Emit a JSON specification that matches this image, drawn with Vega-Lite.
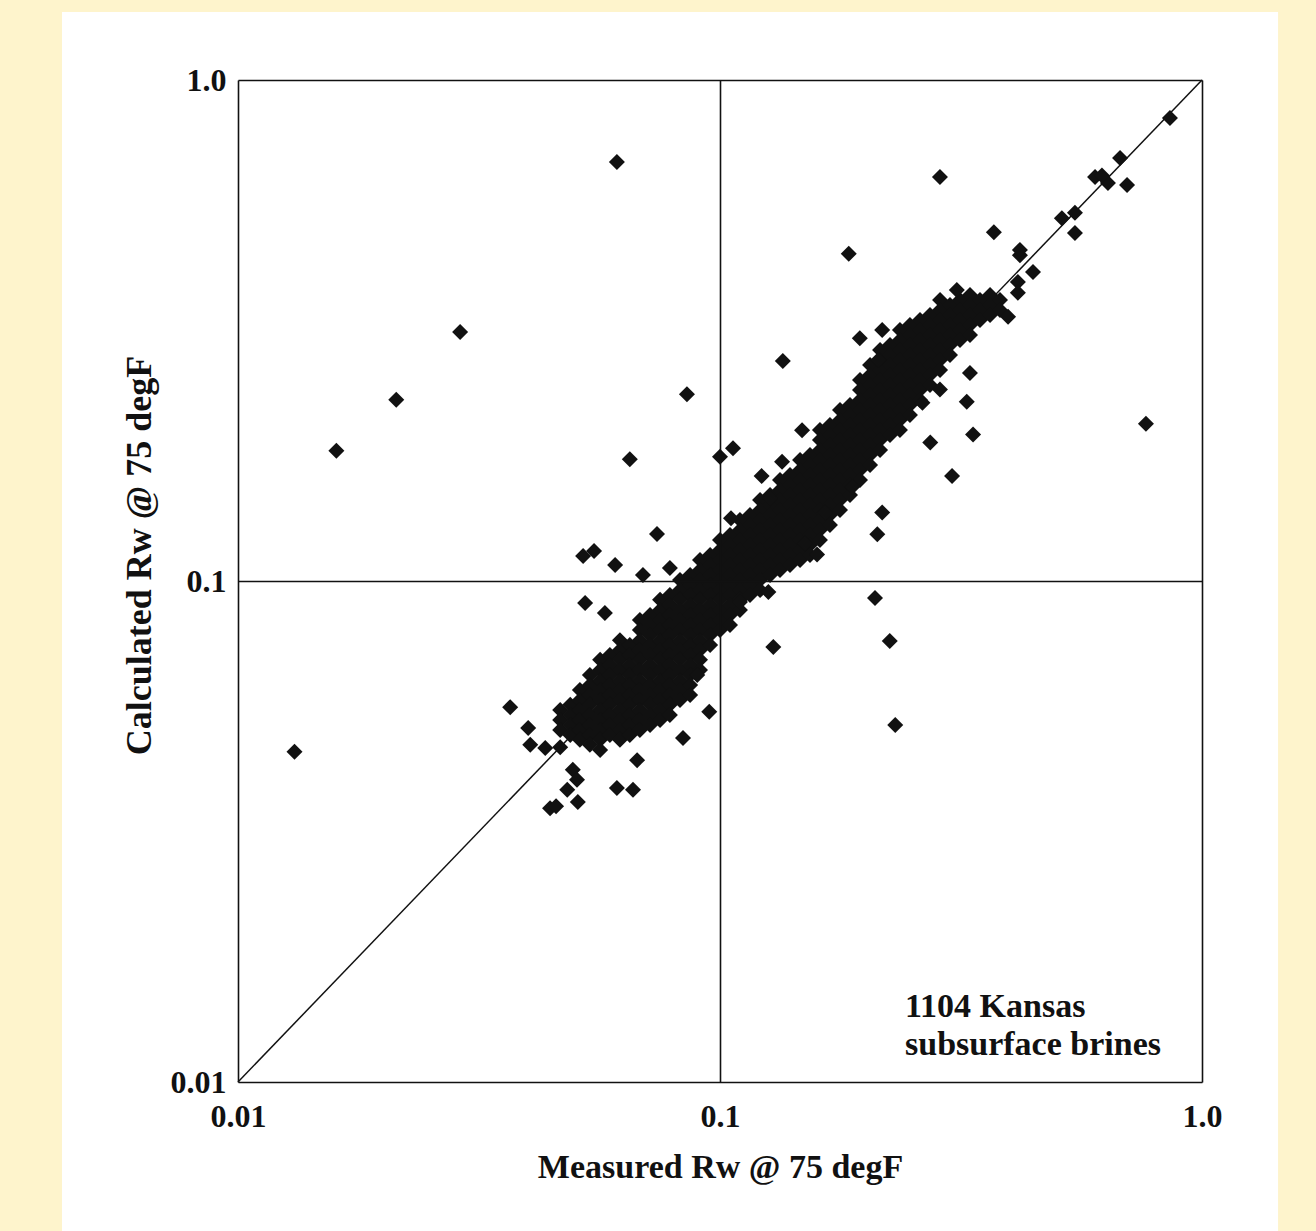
{
  "$schema": "https://vega.github.io/schema/vega-lite/v6.json",
  "width": 964,
  "height": 1002,
  "autosize": "none",
  "padding": {"left": 238, "top": 80, "right": 114, "bottom": 149},
  "background": "#FEF4CC",
  "config": {
    "view": {"stroke": null},
    "axis": {
      "grid": true, "gridColor": "#111111", "gridWidth": 1.6, "gridOpacity": 1,
      "domain": false, "ticks": false,
      "labelFont": "Liberation Serif", "labelFontWeight": "bold", "labelFontSize": 32, "labelColor": "#111111",
      "titleFont": "Liberation Serif", "titleFontWeight": "bold", "titleFontSize": 34, "titleColor": "#111111",
      "labelFlush": false, "labelOverlap": false, "labelBound": false
    }
  },
  "layer": [
    {
      "data": {"values": [{"meas": 0.004314, "meas2": 1.438, "calc": 0.00484, "calc2": 1.367}]},
      "mark": {"type": "rect", "color": "#FFFFFF"},
      "encoding": {
        "x": {"field": "meas", "type": "quantitative", "scale": {"type": "log", "domain": [0.01, 1]},
              "axis": {"title": "Measured Rw @ 75 degF", "values": [0.01, 0.1, 1], "labelPadding": 19, "titlePadding": 18, "zindex": 2,
                       "labelExpr": "datum.value >= 0.99 ? '1.0' : datum.value >= 0.099 ? '0.1' : '0.01'"}},
        "x2": {"field": "meas2"},
        "y": {"field": "calc", "type": "quantitative", "scale": {"type": "log", "domain": [0.01, 1]},
              "axis": {"title": "Calculated Rw @ 75 degF", "values": [0.01, 0.1, 1], "labelPadding": 12, "titlePadding": 12, "titleY": 475, "titleFontSize": 36, "zindex": 2,
                       "labelExpr": "datum.value >= 0.99 ? '1.0' : datum.value >= 0.099 ? '0.1' : '0.01'"}},
        "y2": {"field": "calc2"}
      }
    },
    {
      "data": {"values": [{}]},
      "mark": {"type": "rule", "color": "#111111", "strokeWidth": 1.5},
      "encoding": {
        "x": {"datum": 0.01, "type": "quantitative"},
        "x2": {"datum": 1},
        "y": {"datum": 0.01, "type": "quantitative"},
        "y2": {"datum": 1}
      }
    },
    {
      "data": {"values": [
        {"meas":0.0466,"calc":0.0553},{"meas":0.0466,"calc":0.0528},{"meas":0.0466,"calc":0.0504},
        {"meas":0.0489,"calc":0.0566},{"meas":0.0489,"calc":0.0540},{"meas":0.0489,"calc":0.0516},{"meas":0.0489,"calc":0.0493},
        {"meas":0.0512,"calc":0.0606},{"meas":0.0512,"calc":0.0579},{"meas":0.0512,"calc":0.0553},{"meas":0.0512,"calc":0.0528},{"meas":0.0512,"calc":0.0504},{"meas":0.0512,"calc":0.0482},
        {"meas":0.0537,"calc":0.0649},{"meas":0.0537,"calc":0.0620},{"meas":0.0537,"calc":0.0592},{"meas":0.0537,"calc":0.0566},{"meas":0.0537,"calc":0.0540},{"meas":0.0537,"calc":0.0516},{"meas":0.0537,"calc":0.0493},{"meas":0.0537,"calc":0.0471},
        {"meas":0.0564,"calc":0.0696},{"meas":0.0564,"calc":0.0664},{"meas":0.0564,"calc":0.0634},{"meas":0.0564,"calc":0.0606},{"meas":0.0564,"calc":0.0579},{"meas":0.0564,"calc":0.0553},{"meas":0.0564,"calc":0.0528},{"meas":0.0564,"calc":0.0504},{"meas":0.0564,"calc":0.0482},{"meas":0.0564,"calc":0.0460},
        {"meas":0.0591,"calc":0.0712},{"meas":0.0591,"calc":0.0680},{"meas":0.0591,"calc":0.0649},{"meas":0.0591,"calc":0.0620},{"meas":0.0591,"calc":0.0592},{"meas":0.0591,"calc":0.0566},{"meas":0.0591,"calc":0.0540},{"meas":0.0591,"calc":0.0516},{"meas":0.0591,"calc":0.0493},
        {"meas":0.0620,"calc":0.0762},{"meas":0.0620,"calc":0.0728},{"meas":0.0620,"calc":0.0696},{"meas":0.0620,"calc":0.0664},{"meas":0.0620,"calc":0.0634},{"meas":0.0620,"calc":0.0606},{"meas":0.0620,"calc":0.0579},{"meas":0.0620,"calc":0.0553},{"meas":0.0620,"calc":0.0528},{"meas":0.0620,"calc":0.0504},{"meas":0.0620,"calc":0.0482},
        {"meas":0.0650,"calc":0.0745},{"meas":0.0650,"calc":0.0712},{"meas":0.0650,"calc":0.0680},{"meas":0.0650,"calc":0.0649},{"meas":0.0650,"calc":0.0620},{"meas":0.0650,"calc":0.0592},{"meas":0.0650,"calc":0.0566},{"meas":0.0650,"calc":0.0540},{"meas":0.0650,"calc":0.0516},{"meas":0.0650,"calc":0.0493},
        {"meas":0.0682,"calc":0.0836},{"meas":0.0682,"calc":0.0798},{"meas":0.0682,"calc":0.0762},{"meas":0.0682,"calc":0.0728},{"meas":0.0682,"calc":0.0696},{"meas":0.0682,"calc":0.0664},{"meas":0.0682,"calc":0.0634},{"meas":0.0682,"calc":0.0606},{"meas":0.0682,"calc":0.0579},{"meas":0.0682,"calc":0.0553},{"meas":0.0682,"calc":0.0528},{"meas":0.0682,"calc":0.0504},
        {"meas":0.0716,"calc":0.0855},{"meas":0.0716,"calc":0.0817},{"meas":0.0716,"calc":0.0780},{"meas":0.0716,"calc":0.0745},{"meas":0.0716,"calc":0.0712},{"meas":0.0716,"calc":0.0680},{"meas":0.0716,"calc":0.0649},{"meas":0.0716,"calc":0.0620},{"meas":0.0716,"calc":0.0592},{"meas":0.0716,"calc":0.0566},{"meas":0.0716,"calc":0.0540},{"meas":0.0716,"calc":0.0516},
        {"meas":0.0751,"calc":0.0917},{"meas":0.0751,"calc":0.0875},{"meas":0.0751,"calc":0.0836},{"meas":0.0751,"calc":0.0798},{"meas":0.0751,"calc":0.0762},{"meas":0.0751,"calc":0.0728},{"meas":0.0751,"calc":0.0696},{"meas":0.0751,"calc":0.0664},{"meas":0.0751,"calc":0.0634},{"meas":0.0751,"calc":0.0606},{"meas":0.0751,"calc":0.0579},{"meas":0.0751,"calc":0.0553},{"meas":0.0751,"calc":0.0528},
        {"meas":0.0787,"calc":0.0938},{"meas":0.0787,"calc":0.0896},{"meas":0.0787,"calc":0.0855},{"meas":0.0787,"calc":0.0817},{"meas":0.0787,"calc":0.0780},{"meas":0.0787,"calc":0.0745},{"meas":0.0787,"calc":0.0712},{"meas":0.0787,"calc":0.0680},{"meas":0.0787,"calc":0.0649},{"meas":0.0787,"calc":0.0620},{"meas":0.0787,"calc":0.0592},{"meas":0.0787,"calc":0.0566},{"meas":0.0787,"calc":0.0540},
        {"meas":0.0826,"calc":0.1005},{"meas":0.0826,"calc":0.0959},{"meas":0.0826,"calc":0.0917},{"meas":0.0826,"calc":0.0875},{"meas":0.0826,"calc":0.0836},{"meas":0.0826,"calc":0.0798},{"meas":0.0826,"calc":0.0762},{"meas":0.0826,"calc":0.0728},{"meas":0.0826,"calc":0.0696},{"meas":0.0826,"calc":0.0664},{"meas":0.0826,"calc":0.0634},{"meas":0.0826,"calc":0.0606},{"meas":0.0826,"calc":0.0579},
        {"meas":0.0867,"calc":0.1028},{"meas":0.0867,"calc":0.0982},{"meas":0.0867,"calc":0.0938},{"meas":0.0867,"calc":0.0896},{"meas":0.0867,"calc":0.0855},{"meas":0.0867,"calc":0.0817},{"meas":0.0867,"calc":0.0780},{"meas":0.0867,"calc":0.0745},{"meas":0.0867,"calc":0.0712},{"meas":0.0867,"calc":0.0680},{"meas":0.0867,"calc":0.0649},{"meas":0.0867,"calc":0.0620},{"meas":0.0867,"calc":0.0592},
        {"meas":0.0909,"calc":0.1101},{"meas":0.0909,"calc":0.1052},{"meas":0.0909,"calc":0.1005},{"meas":0.0909,"calc":0.0959},{"meas":0.0909,"calc":0.0917},{"meas":0.0909,"calc":0.0875},{"meas":0.0909,"calc":0.0836},{"meas":0.0909,"calc":0.0798},{"meas":0.0909,"calc":0.0762},{"meas":0.0909,"calc":0.0728},{"meas":0.0909,"calc":0.0696},{"meas":0.0909,"calc":0.0664},
        {"meas":0.0954,"calc":0.1127},{"meas":0.0954,"calc":0.1076},{"meas":0.0954,"calc":0.1028},{"meas":0.0954,"calc":0.0982},{"meas":0.0954,"calc":0.0938},{"meas":0.0954,"calc":0.0896},{"meas":0.0954,"calc":0.0855},{"meas":0.0954,"calc":0.0817},{"meas":0.0954,"calc":0.0780},{"meas":0.0954,"calc":0.0745},
        {"meas":0.1000,"calc":0.1207},{"meas":0.1000,"calc":0.1153},{"meas":0.1000,"calc":0.1101},{"meas":0.1000,"calc":0.1052},{"meas":0.1000,"calc":0.1005},{"meas":0.1000,"calc":0.0959},{"meas":0.1000,"calc":0.0917},{"meas":0.1000,"calc":0.0875},{"meas":0.1000,"calc":0.0836},{"meas":0.1000,"calc":0.0798},
        {"meas":0.1049,"calc":0.1235},{"meas":0.1049,"calc":0.1180},{"meas":0.1049,"calc":0.1127},{"meas":0.1049,"calc":0.1076},{"meas":0.1049,"calc":0.1028},{"meas":0.1049,"calc":0.0982},{"meas":0.1049,"calc":0.0938},{"meas":0.1049,"calc":0.0896},{"meas":0.1049,"calc":0.0855},{"meas":0.1049,"calc":0.0817},
        {"meas":0.1100,"calc":0.1323},{"meas":0.1100,"calc":0.1264},{"meas":0.1100,"calc":0.1207},{"meas":0.1100,"calc":0.1153},{"meas":0.1100,"calc":0.1101},{"meas":0.1100,"calc":0.1052},{"meas":0.1100,"calc":0.1005},{"meas":0.1100,"calc":0.0959},{"meas":0.1100,"calc":0.0917},{"meas":0.1100,"calc":0.0875},
        {"meas":0.1154,"calc":0.1354},{"meas":0.1154,"calc":0.1293},{"meas":0.1154,"calc":0.1235},{"meas":0.1154,"calc":0.1180},{"meas":0.1154,"calc":0.1127},{"meas":0.1154,"calc":0.1076},{"meas":0.1154,"calc":0.1028},{"meas":0.1154,"calc":0.0982},{"meas":0.1154,"calc":0.0938},
        {"meas":0.1211,"calc":0.1451},{"meas":0.1211,"calc":0.1386},{"meas":0.1211,"calc":0.1323},{"meas":0.1211,"calc":0.1264},{"meas":0.1211,"calc":0.1207},{"meas":0.1211,"calc":0.1153},{"meas":0.1211,"calc":0.1101},{"meas":0.1211,"calc":0.1052},{"meas":0.1211,"calc":0.1005},{"meas":0.1211,"calc":0.0959},
        {"meas":0.1270,"calc":0.1485},{"meas":0.1270,"calc":0.1418},{"meas":0.1270,"calc":0.1354},{"meas":0.1270,"calc":0.1293},{"meas":0.1270,"calc":0.1235},{"meas":0.1270,"calc":0.1180},{"meas":0.1270,"calc":0.1127},{"meas":0.1270,"calc":0.1076},{"meas":0.1270,"calc":0.1028},
        {"meas":0.1332,"calc":0.1590},{"meas":0.1332,"calc":0.1519},{"meas":0.1332,"calc":0.1451},{"meas":0.1332,"calc":0.1386},{"meas":0.1332,"calc":0.1323},{"meas":0.1332,"calc":0.1264},{"meas":0.1332,"calc":0.1207},{"meas":0.1332,"calc":0.1153},{"meas":0.1332,"calc":0.1101},{"meas":0.1332,"calc":0.1052},
        {"meas":0.1397,"calc":0.1627},{"meas":0.1397,"calc":0.1554},{"meas":0.1397,"calc":0.1485},{"meas":0.1397,"calc":0.1418},{"meas":0.1397,"calc":0.1354},{"meas":0.1397,"calc":0.1293},{"meas":0.1397,"calc":0.1235},{"meas":0.1397,"calc":0.1180},{"meas":0.1397,"calc":0.1127},{"meas":0.1397,"calc":0.1076},
        {"meas":0.1466,"calc":0.1744},{"meas":0.1466,"calc":0.1665},{"meas":0.1466,"calc":0.1590},{"meas":0.1466,"calc":0.1519},{"meas":0.1466,"calc":0.1451},{"meas":0.1466,"calc":0.1386},{"meas":0.1466,"calc":0.1323},{"meas":0.1466,"calc":0.1264},{"meas":0.1466,"calc":0.1207},{"meas":0.1466,"calc":0.1153},{"meas":0.1466,"calc":0.1101},
        {"meas":0.1537,"calc":0.1785},{"meas":0.1537,"calc":0.1704},{"meas":0.1537,"calc":0.1627},{"meas":0.1537,"calc":0.1554},{"meas":0.1537,"calc":0.1485},{"meas":0.1537,"calc":0.1418},{"meas":0.1537,"calc":0.1354},{"meas":0.1537,"calc":0.1293},{"meas":0.1537,"calc":0.1235},{"meas":0.1537,"calc":0.1180},{"meas":0.1537,"calc":0.1127},
        {"meas":0.1612,"calc":0.2001},{"meas":0.1612,"calc":0.1911},{"meas":0.1612,"calc":0.1826},{"meas":0.1612,"calc":0.1744},{"meas":0.1612,"calc":0.1665},{"meas":0.1612,"calc":0.1590},{"meas":0.1612,"calc":0.1519},{"meas":0.1612,"calc":0.1451},{"meas":0.1612,"calc":0.1386},{"meas":0.1612,"calc":0.1323},{"meas":0.1612,"calc":0.1264},{"meas":0.1612,"calc":0.1207},
        {"meas":0.1691,"calc":0.2048},{"meas":0.1691,"calc":0.1956},{"meas":0.1691,"calc":0.1868},{"meas":0.1691,"calc":0.1785},{"meas":0.1691,"calc":0.1704},{"meas":0.1691,"calc":0.1627},{"meas":0.1691,"calc":0.1554},{"meas":0.1691,"calc":0.1485},{"meas":0.1691,"calc":0.1418},{"meas":0.1691,"calc":0.1354},{"meas":0.1691,"calc":0.1293},
        {"meas":0.1774,"calc":0.2194},{"meas":0.1774,"calc":0.2096},{"meas":0.1774,"calc":0.2001},{"meas":0.1774,"calc":0.1911},{"meas":0.1774,"calc":0.1826},{"meas":0.1774,"calc":0.1744},{"meas":0.1774,"calc":0.1665},{"meas":0.1774,"calc":0.1590},{"meas":0.1774,"calc":0.1519},{"meas":0.1774,"calc":0.1451},{"meas":0.1774,"calc":0.1386},
        {"meas":0.1861,"calc":0.2245},{"meas":0.1861,"calc":0.2145},{"meas":0.1861,"calc":0.2048},{"meas":0.1861,"calc":0.1956},{"meas":0.1861,"calc":0.1868},{"meas":0.1861,"calc":0.1785},{"meas":0.1861,"calc":0.1704},{"meas":0.1861,"calc":0.1627},{"meas":0.1861,"calc":0.1554},{"meas":0.1861,"calc":0.1485},
        {"meas":0.1952,"calc":0.2519},{"meas":0.1952,"calc":0.2405},{"meas":0.1952,"calc":0.2297},{"meas":0.1952,"calc":0.2194},{"meas":0.1952,"calc":0.2096},{"meas":0.1952,"calc":0.2001},{"meas":0.1952,"calc":0.1911},{"meas":0.1952,"calc":0.1826},{"meas":0.1952,"calc":0.1744},{"meas":0.1952,"calc":0.1665},{"meas":0.1952,"calc":0.1590},
        {"meas":0.2048,"calc":0.2699},{"meas":0.2048,"calc":0.2578},{"meas":0.2048,"calc":0.2462},{"meas":0.2048,"calc":0.2351},{"meas":0.2048,"calc":0.2245},{"meas":0.2048,"calc":0.2145},{"meas":0.2048,"calc":0.2048},{"meas":0.2048,"calc":0.1956},{"meas":0.2048,"calc":0.1868},{"meas":0.2048,"calc":0.1785},{"meas":0.2048,"calc":0.1704},
        {"meas":0.2148,"calc":0.2891},{"meas":0.2148,"calc":0.2761},{"meas":0.2148,"calc":0.2637},{"meas":0.2148,"calc":0.2519},{"meas":0.2148,"calc":0.2405},{"meas":0.2148,"calc":0.2297},{"meas":0.2148,"calc":0.2194},{"meas":0.2148,"calc":0.2096},{"meas":0.2148,"calc":0.2001},{"meas":0.2148,"calc":0.1911},{"meas":0.2148,"calc":0.1826},
        {"meas":0.2253,"calc":0.2959},{"meas":0.2253,"calc":0.2826},{"meas":0.2253,"calc":0.2699},{"meas":0.2253,"calc":0.2578},{"meas":0.2253,"calc":0.2462},{"meas":0.2253,"calc":0.2351},{"meas":0.2253,"calc":0.2245},{"meas":0.2253,"calc":0.2145},{"meas":0.2253,"calc":0.2048},{"meas":0.2253,"calc":0.1956},
        {"meas":0.2362,"calc":0.3170},{"meas":0.2362,"calc":0.3027},{"meas":0.2362,"calc":0.2891},{"meas":0.2362,"calc":0.2761},{"meas":0.2362,"calc":0.2637},{"meas":0.2362,"calc":0.2519},{"meas":0.2362,"calc":0.2405},{"meas":0.2362,"calc":0.2297},{"meas":0.2362,"calc":0.2194},{"meas":0.2362,"calc":0.2096},{"meas":0.2362,"calc":0.2001},
        {"meas":0.2478,"calc":0.3244},{"meas":0.2478,"calc":0.3098},{"meas":0.2478,"calc":0.2959},{"meas":0.2478,"calc":0.2826},{"meas":0.2478,"calc":0.2699},{"meas":0.2478,"calc":0.2578},{"meas":0.2478,"calc":0.2462},{"meas":0.2478,"calc":0.2351},{"meas":0.2478,"calc":0.2245},{"meas":0.2478,"calc":0.2145},
        {"meas":0.2600,"calc":0.3319},{"meas":0.2600,"calc":0.3170},{"meas":0.2600,"calc":0.3027},{"meas":0.2600,"calc":0.2891},{"meas":0.2600,"calc":0.2761},{"meas":0.2600,"calc":0.2637},{"meas":0.2600,"calc":0.2519},{"meas":0.2600,"calc":0.2405},{"meas":0.2600,"calc":0.2297},
        {"meas":0.2727,"calc":0.3396},{"meas":0.2727,"calc":0.3244},{"meas":0.2727,"calc":0.3098},{"meas":0.2727,"calc":0.2959},{"meas":0.2727,"calc":0.2826},{"meas":0.2727,"calc":0.2699},{"meas":0.2727,"calc":0.2578},{"meas":0.2727,"calc":0.2462},
        {"meas":0.2861,"calc":0.3638},{"meas":0.2861,"calc":0.3474},{"meas":0.2861,"calc":0.3319},{"meas":0.2861,"calc":0.3170},{"meas":0.2861,"calc":0.3027},{"meas":0.2861,"calc":0.2891},{"meas":0.2861,"calc":0.2761},{"meas":0.2861,"calc":0.2637},
        {"meas":0.3000,"calc":0.3555},{"meas":0.3000,"calc":0.3396},{"meas":0.3000,"calc":0.3244},{"meas":0.3000,"calc":0.3098},{"meas":0.3000,"calc":0.2959},{"meas":0.3000,"calc":0.2826},
        {"meas":0.3147,"calc":0.3638},{"meas":0.3147,"calc":0.3474},{"meas":0.3147,"calc":0.3319},{"meas":0.3147,"calc":0.3170},{"meas":0.3147,"calc":0.3027},
        {"meas":0.3301,"calc":0.3723},{"meas":0.3301,"calc":0.3555},{"meas":0.3301,"calc":0.3396},{"meas":0.3301,"calc":0.3244},{"meas":0.3301,"calc":0.3098},
        {"meas":0.3463,"calc":0.3638},{"meas":0.3463,"calc":0.3474},{"meas":0.3463,"calc":0.3319},
        {"meas":0.3633,"calc":0.3723},{"meas":0.3633,"calc":0.3555},{"meas":0.3633,"calc":0.3396},
        {"meas":0.3810,"calc":0.3638},{"meas":0.3810,"calc":0.3474},
        {"meas":0.0611,"calc":0.686},{"meas":0.0289,"calc":0.314},{"meas":0.0213,"calc":0.230},{"meas":0.0160,"calc":0.182},{"meas":0.0131,"calc":0.0456},
        {"meas":0.0854,"calc":0.236},{"meas":0.0650,"calc":0.175},{"meas":0.100,"calc":0.177},{"meas":0.1064,"calc":0.184},{"meas":0.765,"calc":0.206},
        {"meas":0.286,"calc":0.640},{"meas":0.185,"calc":0.450},{"meas":0.370,"calc":0.497},{"meas":0.858,"calc":0.840},{"meas":0.676,"calc":0.699},
        {"meas":0.600,"calc":0.640},{"meas":0.638,"calc":0.623},{"meas":0.699,"calc":0.617},{"meas":0.620,"calc":0.645},{"meas":0.512,"calc":0.530},
        {"meas":0.545,"calc":0.543},{"meas":0.545,"calc":0.495},{"meas":0.419,"calc":0.447},{"meas":0.419,"calc":0.458},{"meas":0.446,"calc":0.414},
        {"meas":0.415,"calc":0.395},{"meas":0.415,"calc":0.376},{"meas":0.310,"calc":0.381},{"meas":0.396,"calc":0.337},{"meas":0.195,"calc":0.305},
        {"meas":0.217,"calc":0.317},{"meas":0.213,"calc":0.276},{"meas":0.330,"calc":0.260},{"meas":0.325,"calc":0.228},{"meas":0.335,"calc":0.196},
        {"meas":0.273,"calc":0.189},{"meas":0.303,"calc":0.162},{"meas":0.263,"calc":0.227},{"meas":0.286,"calc":0.241},{"meas":0.217,"calc":0.137},
        {"meas":0.212,"calc":0.124},{"meas":0.159,"calc":0.113},{"meas":0.150,"calc":0.119},{"meas":0.188,"calc":0.154},{"meas":0.165,"calc":0.137},
        {"meas":0.148,"calc":0.200},{"meas":0.1345,"calc":0.173},{"meas":0.122,"calc":0.162},{"meas":0.127,"calc":0.146},{"meas":0.1054,"calc":0.1335},
        {"meas":0.135,"calc":0.275},{"meas":0.2097,"calc":0.0925},{"meas":0.225,"calc":0.0759},{"meas":0.231,"calc":0.0516},{"meas":0.129,"calc":0.0738},
        {"meas":0.126,"calc":0.0951},{"meas":0.110,"calc":0.0908},{"meas":0.0950,"calc":0.0548},{"meas":0.0838,"calc":0.0486},{"meas":0.0897,"calc":0.0649},
        {"meas":0.0367,"calc":0.0560},{"meas":0.0400,"calc":0.0509},{"meas":0.0404,"calc":0.0471},{"meas":0.0434,"calc":0.0464},{"meas":0.0466,"calc":0.0466},
        {"meas":0.0444,"calc":0.0352},{"meas":0.0457,"calc":0.0355},{"meas":0.0507,"calc":0.0362},{"meas":0.0482,"calc":0.0383},{"meas":0.0495,"calc":0.0420},
        {"meas":0.0505,"calc":0.0401},{"meas":0.0611,"calc":0.0386},{"meas":0.0660,"calc":0.0383},{"meas":0.0673,"calc":0.0439},{"meas":0.0525,"calc":0.0904},
        {"meas":0.0577,"calc":0.0863},{"meas":0.0692,"calc":0.1028},{"meas":0.0787,"calc":0.1062},{"meas":0.0606,"calc":0.1076},{"meas":0.0520,"calc":0.1122},
        {"meas":0.0548,"calc":0.1148},{"meas":0.0740,"calc":0.1241}
      ]},
      "mark": {"type": "point", "shape": "diamond", "filled": true, "size": 256, "color": "#111111", "opacity": 1},
      "encoding": {
        "x": {"field": "meas", "type": "quantitative", "scale": {"type": "log", "domain": [0.01, 1]}},
        "y": {"field": "calc", "type": "quantitative", "scale": {"type": "log", "domain": [0.01, 1]}}
      }
    },
    {
      "data": {"values": [{}]},
      "mark": {"type": "text", "text": ["1104 Kansas", "subsurface brines"], "align": "left", "baseline": "alphabetic",
               "font": "Liberation Serif", "fontWeight": "bold", "fontSize": 34, "lineHeight": 38, "color": "#111111"},
      "encoding": {
        "x": {"datum": 0.242, "type": "quantitative"},
        "y": {"datum": 0.01349, "type": "quantitative"}
      }
    }
  ]
}
